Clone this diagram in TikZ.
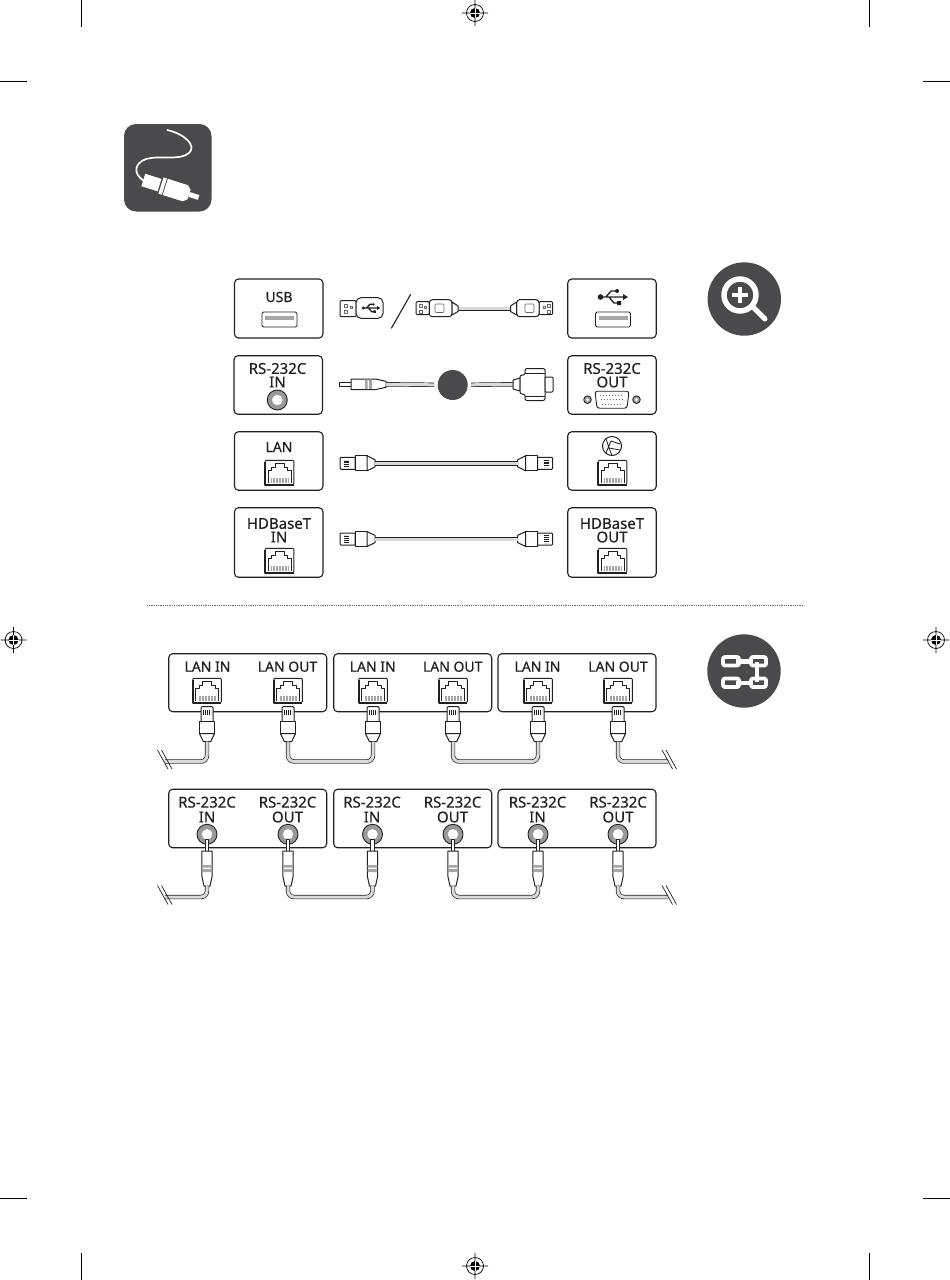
\documentclass[tikz,border=0pt]{standalone}
\usepackage{fontspec}
\setmainfont[FakeBold=0.35]{Noto Sans}
\usepackage{tikz}
\definecolor{ink}{HTML}{231F20}
\definecolor{iconfill}{HTML}{4A494B}

\begin{document}
\begin{tikzpicture}[x=1pt,y=-1pt,line join=round]
  \tikzstyle{panel}=[draw=ink,line width=1.1pt,rounded corners=4pt,inner sep=0pt,minimum width=88.5pt]
  \tikzstyle{wide}=[draw=ink,line width=1.1pt,rounded corners=4pt,inner sep=0pt,minimum width=158pt,minimum height=58pt]
  \tikzstyle{lbl}=[inner sep=0pt,text=ink,font=\fontsize{14}{14}\selectfont]
  \tikzstyle{rslbl}=[inner sep=0pt,text=ink,font=\fontsize{15}{15}\selectfont]
  \tikzstyle{cable}=[draw=ink,line width=0.7pt,double=black!15,double distance=3pt,rounded corners=6pt]
  \tikzstyle{part}=[draw=ink,line width=1pt,fill=white]
  \tikzstyle{cropline}=[black,line width=1pt]
  \tikzset{
    rjport/.pic={
      \draw[ink,line width=0.9pt,fill=white,rounded corners=1pt] (-14.3,-12.2) rectangle (14.3,12.2);
      \draw[ink,line width=1.7pt] (-14.3,-11)--(-14.3,12.2)--(14.3,12.2);
      \draw[ink,line width=0.6pt] (-11.5,10)--(-11.5,-2)--(-8,-2)--(-8,-5.5)--(-4.5,-5.5)--(-4.5,-9)
        --(4.5,-9)--(4.5,-5.5)--(8,-5.5)--(8,-2)--(11.5,-2)--(11.5,10);
      \draw[black!35,line width=5pt,dash pattern=on 0.8pt off 0.7pt] (-8.5,7.5)--(8.5,7.5);
    },
    jackport/.pic={
      \draw[ink,line width=0.9pt,fill=black!40] (0,0) circle (10);
      \fill[white] (0,0) circle (5.2);
    },
    usbport/.pic={
      \draw[ink,line width=0.9pt,fill=white,rounded corners=1.5pt] (-17.5,-7.5) rectangle (17.5,7.5);
      \fill[black!35] (-14.5,-4) rectangle (14.5,0);
    },
    vgaport/.pic={
      \draw[ink,line width=0.9pt,fill=white,rounded corners=2.5pt] (-17,-8.5)--(17,-8.5)--(15,8.5)--(-15,8.5)--cycle;
      \draw[black!55,line width=1pt,dash pattern=on 1pt off 2pt] (-12,-4.5)--(12,-4.5) (-11,0)--(11,0) (-10,4.5)--(10,4.5);
      \draw[ink,line width=0.9pt,fill=black!35] (-24.5,0) circle (3.8) (24.5,0) circle (3.8);
      \fill[white] (-24.5,0) circle (1.4) (24.5,0) circle (1.4);
    },
    usbsym/.pic={
      \draw[ink,line width=1.3pt] (-12,0)--(12,0) (-7,0)--(-2,-6)--(3,-6) (-4,0)--(1,6)--(5,6);
      \fill[ink] (-12.5,0) circle (2.8) (15,0)--(10,-3)--(10,3)--cycle (4,-6) circle (2) (4,4)rectangle(8,8);
    },
    rjplug/.pic={
      \draw[part] (-6,1)--(-5,0)--(5,0)--(6,1)--(6,15)--(-6,15)--cycle;
      \draw[ink,line width=5pt,dash pattern=on 0.9pt off 0.9pt] (-3.6,6)--(3.6,6);
      \draw[part] (-7.5,15) rectangle (7.5,27);
      \draw[part] (-7.5,27)--(-3.6,35)--(3.6,35)--(7.5,27)--cycle;
      \coordinate (-end) at (0,35);
    },
    jackplug/.pic={
      \draw[part] (-1.8,0) rectangle (1.8,12);
      \draw[part] (-5.2,12)--(5.2,12)--(5.2,37)--(3,47)--(-3,47)--(-5.2,37)--cycle;
      \fill[black!35] (-4.8,26) rectangle (4.8,28.5) (-4.8,30) rectangle (4.8,33);
      \coordinate (-end) at (0,47);
    },
    regmark/.pic={
      \draw[black,line width=0.7pt] (0,0) circle (8.5) (-13,0)--(13,0) (0,-13)--(0,13);
      \fill[black] (0,0) circle (5);
      \draw[white,line width=0.8pt] (-5,0)--(5,0) (0,-5)--(0,5);
    }
  }

  % crop marks
  \useasboundingbox (0,0) rectangle (950,1280);
  \draw[cropline] (81,0)--(81,27) (0,81)--(27,81) (869,0)--(869,27) (923,81)--(950,81);
  \draw[cropline] (81,1253)--(81,1280) (0,1198)--(27,1198) (869,1253)--(869,1280) (923,1198)--(950,1198);
  \pic at (475,13) {regmark};
  \pic at (475,1266) {regmark};
  \pic at (13.5,640) {regmark};
  \pic at (936,640) {regmark};

  % cable icon
  \fill[iconfill,rounded corners=12pt] (124,124) rectangle (211.5,211.5);
  \draw[white,line width=1.7pt,line cap=round] (167.3,130) .. controls (185,134) and (197,146) .. (189,153)
    .. controls (180,161) and (160,155) .. (146,159) .. controls (135,163) and (132,173) .. (144,181);
  \begin{scope}[shift={(143.3,180)},rotate=-17.5]
    \fill[white] (0,-6.5) rectangle (17,6.5);
    \fill[white] (18.5,-8.5) rectangle (22,8.5);
    \fill[white] (23,-8.5)--(44,-8.5)--(48,-5)--(48,5)--(44,8.5)--(23,8.5)--cycle;
    \fill[white] (48,-2.5) rectangle (58,2.5);
  \end{scope}

  % zoom icon
  \fill[iconfill] (744.3,299) circle (36.7);
  \draw[white,line width=5.5pt] (740,295) circle (16);
  \draw[white,line width=5pt,line cap=round] (753,307)--(765,319);
  \draw[white,line width=4pt] (732,295)--(748,295) (740,287)--(740,303);

  % chain icon
  \fill[iconfill] (744,671) circle (36.7);
  \draw[white,line width=3.8pt,rounded corners=2pt] (723,657) rectangle (739,665.5) (751,657) rectangle (766,665.5);
  \draw[white,line width=3.8pt,rounded corners=2pt] (723,678.5) rectangle (739,687) (751,678.5) rectangle (766,687);
  \draw[white,line width=4.4pt] (736,661.3)--(753,661.3) (736,682.7)--(753,682.7) (757,662)--(757,682);

  % upper panels
  \node[panel,minimum height=59pt] (usbin) at (278.7,308.5) {};
  \node[panel,minimum height=59pt] (usbout) at (612,308.5) {};
  \node[panel,minimum height=58.5pt] (rsin) at (278.2,385) {};
  \node[panel,minimum height=58.5pt] (rsout) at (612,385) {};
  \node[panel,minimum height=58.5pt] (lanin) at (278.7,461) {};
  \node[panel,minimum height=58.5pt] (lanout) at (612,461) {};
  \node[panel,minimum height=69.5pt] (hdin) at (278.7,542.5) {};
  \node[panel,minimum height=69.5pt] (hdout) at (612,542.5) {};

  \node[lbl] (usbt) at (279,297) {USB};
  \pic at (279.5,319.5) {usbport};
  \pic at (613,297) {usbsym};
  \pic at (613,319.5) {usbport};
  \node[rslbl] (rsint) at (277.5,368.5) {RS-232C};
  \node[rslbl] (rsinb) at (277.5,382) {IN};
  \pic at (277.3,400) {jackport};
  \node[rslbl] (rsoutt) at (612,368.5) {RS-232C};
  \node[rslbl] (rsoutb) at (612,382) {OUT};
  \pic at (612,399.7) {vgaport};
  \node[lbl] (lant) at (279,447) {LAN};
  \pic at (279.5,472.5) {rjport};
  \draw[ink,line width=1pt] (612,446) circle (9.5);
  \draw[ink,line width=0.8pt] (606,438.5)--(609,448)--(612,455.5) (609,448)--(620,450) (606,453)--(611,441)--(620,444);
  \pic at (612.5,472.5) {rjport};
  \node[rslbl] (hdint) at (279,523.5) {HDBaseT};
  \node[rslbl] (hdinb) at (279,537) {IN};
  \pic at (279.5,560.5) {rjport};
  \node[rslbl] (hdoutt) at (612,523.5) {HDBaseT};
  \node[rslbl] (hdoutb) at (612,537) {OUT};
  \pic at (612.5,560.5) {rjport};

  % usb plug and cable
  \draw[part,rounded corners=1pt] (356,300.7) rectangle (340,316.7);
  \draw[part,rounded corners=5pt] (356,297.7)--(383,297.7)--(383,318.3)--(356,318.3)--cycle;
  \draw[black!60,line width=0.6pt] (344,304) rectangle (347,307) (344,310) rectangle (347,313) (350,306.5) rectangle (352,308.5);
  \pic[scale=0.62] at (371,308) {usbsym};
  \draw[ink,line width=1.1pt] (410.7,294.3)--(391.3,328.3);
  \coordinate (usba) at (458,308.8);
  \coordinate (usbb) at (510.5,308.8);
  \draw[cable] (usba)--(usbb);
  \draw[part,rounded corners=1pt] (416,301.7) rectangle (429.3,314.5);
  \draw[part,rounded corners=3pt] (429.3,299.7) rectangle (452,316.7);
  \draw[part] (452,302)--(458,306)--(458,311.5)--(452,315)--cycle;
  \draw[black!60,line width=0.6pt,rounded corners=1pt] (435,304) rectangle (444,312.5);
  \draw[part,rounded corners=1pt] (552.7,301.7) rectangle (539,314.5);
  \draw[part,rounded corners=3pt] (539,299.7) rectangle (516.7,316.7);
  \draw[part] (516.7,302)--(510.5,306)--(510.5,311.5)--(516.7,315)--cycle;
  \draw[black!60,line width=0.6pt,rounded corners=1pt] (525,304) rectangle (534,312.5);
  \draw[black!60,line width=0.6pt] (419,304) rectangle (422,307) (419,310) rectangle (422,313) (424,306.5) rectangle (426,308.5);
  \draw[black!60,line width=0.6pt] (547,304) rectangle (550,307) (547,310) rectangle (550,313) (543,306.5) rectangle (545,308.5);

  % rs-232c cable
  \pic[rotate=90] (jk) at (339,384.3) {jackplug};
  \node[circle,fill=iconfill,minimum size=30pt,inner sep=0pt,outer sep=3.5pt] (badge) at (452.7,385) {};
  \coordinate (vgaend) at (513,384.3);
  \draw[cable] (jk-end)--(badge);
  \draw[cable] (badge)--(vgaend);
  \draw[part] (513,380)--(520,378)--(520,391)--(513,389)--cycle;
  \draw[part,rounded corners=2pt] (520,375)--(525,375)--(525,368.5)--(545,368.5)--(545,400.5)--(525,400.5)--(525,394)--(520,394)--cycle;
  \draw[part,rounded corners=1pt] (545,377)--(553,377)--(553,392)--(545,392)--cycle;
  \draw[ink,line width=0.6pt] (525,373)--(545,373) (525,396)--(545,396);

  % lan and hdbaset cables
  \pic[rotate=90] (lana) at (340,463.3) {rjplug};
  \pic[rotate=-90] (lanb) at (552.7,463.3) {rjplug};
  \draw[cable] (lana-end)--(lanb-end);
  \pic[rotate=90] (hda) at (340,539) {rjplug};
  \pic[rotate=-90] (hdb) at (552.7,539) {rjplug};
  \draw[cable] (hda-end)--(hdb-end);

  % divider
  \draw[black!60,line width=0.7pt,dash pattern=on 0.8pt off 1pt] (147,605.5)--(804,605.5);

  % lan chain
  \node[wide] (lan1) at (247.7,682.7) {};
  \node[wide] (lan2) at (412.7,682.7) {};
  \node[wide] (lan3) at (577,682.7) {};
  \node[lbl] (lan1i) at (207.5,666.7) {LAN IN};
  \node[lbl] (lan1o) at (287.5,666.7) {LAN OUT};
  \node[lbl] (lan2i) at (372.7,666.7) {LAN IN};
  \node[lbl] (lan2o) at (452.7,666.7) {LAN OUT};
  \node[lbl] (lan3i) at (537.5,666.7) {LAN IN};
  \node[lbl] (lan3o) at (618,666.7) {LAN OUT};
  \pic at (207,690.5) {rjport};
  \pic at (288,690.5) {rjport};
  \pic at (373,690.5) {rjport};
  \pic at (453,690.5) {rjport};
  \pic at (538,690.5) {rjport};
  \pic at (618,690.5) {rjport};
  \pic (p1) at (207,706.7) {rjplug};
  \pic (p2) at (288,706.7) {rjplug};
  \pic (p3) at (373,706.7) {rjplug};
  \pic (p4) at (453,706.7) {rjplug};
  \pic (p5) at (538,706.7) {rjplug};
  \pic (p6) at (618,706.7) {rjplug};
  \coordinate (lanl) at (165,761.5);
  \coordinate (lanr) at (668,761.5);
  \draw[cable] (lanl)-|(p1-end);
  \draw[cable] (p2-end)--++(0,19.8)-|(p3-end);
  \draw[cable] (p4-end)--++(0,19.8)-|(p5-end);
  \draw[cable] (p6-end)|-(lanr);
  \draw[ink,line width=0.7pt] (157.5,750)--(168,769) (161.5,750)--(172,769) (662,750)--(672.5,769) (666,750)--(676.5,769);

  % rs-232c chain
  \node[wide,minimum height=58.5pt] (rs1) at (247.7,818.5) {};
  \node[wide,minimum height=58.5pt] (rs2) at (412.7,818.5) {};
  \node[wide,minimum height=58.5pt] (rs3) at (577,818.5) {};
  \node[rslbl] (rs1it) at (207,802.2) {RS-232C};
  \node[rslbl] (rs1ib) at (207,817) {IN};
  \node[rslbl] (rs1ot) at (287.5,802.2) {RS-232C};
  \node[rslbl] (rs1ob) at (287.5,817) {OUT};
  \node[rslbl] (rs2it) at (372,802.2) {RS-232C};
  \node[rslbl] (rs2ib) at (372,817) {IN};
  \node[rslbl] (rs2ot) at (452.5,802.2) {RS-232C};
  \node[rslbl] (rs2ob) at (452.5,817) {OUT};
  \node[rslbl] (rs3it) at (537.5,802.2) {RS-232C};
  \node[rslbl] (rs3ib) at (537.5,817) {IN};
  \node[rslbl] (rs3ot) at (618,802.2) {RS-232C};
  \node[rslbl] (rs3ob) at (618,817) {OUT};
  \pic at (207,834.3) {jackport};
  \pic at (288,834.3) {jackport};
  \pic at (372.5,834.3) {jackport};
  \pic at (453,834.3) {jackport};
  \pic at (538,834.3) {jackport};
  \pic at (618,834.3) {jackport};
  \pic (j1) at (207,839) {jackplug};
  \pic (j2) at (288,839) {jackplug};
  \pic (j3) at (372.5,839) {jackplug};
  \pic (j4) at (453,839) {jackplug};
  \pic (j5) at (538,839) {jackplug};
  \pic (j6) at (618,839) {jackplug};
  \coordinate (rsl) at (165,897);
  \coordinate (rsr) at (668,897);
  \draw[cable] (rsl)-|(j1-end);
  \draw[cable] (j2-end)--++(0,11)-|(j3-end);
  \draw[cable] (j4-end)--++(0,11)-|(j5-end);
  \draw[cable] (j6-end)|-(rsr);
  \draw[ink,line width=0.7pt] (157.5,885.5)--(168,904.5) (161.5,885.5)--(172,904.5) (662,885.5)--(672.5,904.5) (666,885.5)--(676.5,904.5);
\end{tikzpicture}
\end{document}
